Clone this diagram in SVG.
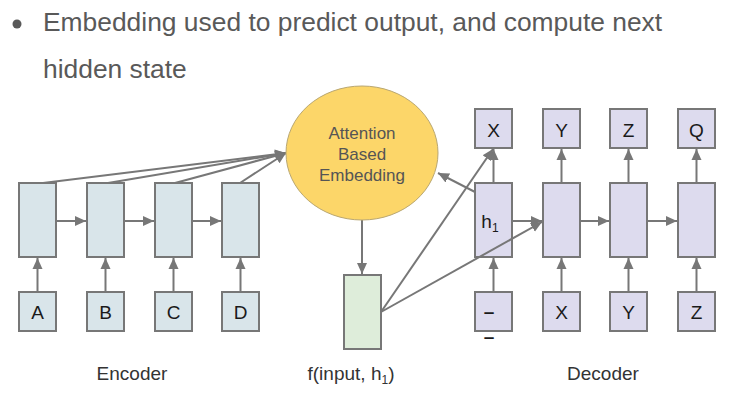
<svg xmlns="http://www.w3.org/2000/svg" width="737" height="400" viewBox="0 0 737 400">
<defs>
<marker id="ah" markerUnits="userSpaceOnUse" markerWidth="12" markerHeight="12" viewBox="0 0 12 12" refX="11" refY="6" orient="auto">
<path d="M0,1 L11,6 L0,11 Z" fill="#777"/>
</marker>
</defs>
<style>
.enc{fill:#d9e5ea;stroke:#777;stroke-width:2}
.dec{fill:#dddbee;stroke:#777;stroke-width:2}
.grn{fill:#deedda;stroke:#777;stroke-width:2}
.c{stroke:#777;stroke-width:2;fill:none;marker-end:url(#ah)}
.t{font-family:"Liberation Sans",Arial,sans-serif;fill:#595959}
.lb{font-family:"Liberation Sans",Arial,sans-serif;fill:#1a1a1a;font-size:19px;text-anchor:middle}
.cap{font-family:"Liberation Sans",Arial,sans-serif;fill:#333;font-size:19px;text-anchor:middle}
.att{font-family:"Liberation Sans",Arial,sans-serif;fill:#555;font-size:17px;text-anchor:middle}
</style>
<rect width="737" height="400" fill="#fff"/>
<g id="title">
<circle cx="17" cy="24" r="4.5" fill="#595959"/>
<text class="t" x="43" y="31" font-size="26.4">Embedding used to predict output, and compute next</text>
<text class="t" x="43" y="78" font-size="26.4">hidden state</text>
</g>
<g id="connectors">
<line class="c" x1="43" y1="183" x2="286" y2="153"/>
<line class="c" x1="108" y1="183" x2="286" y2="153"/>
<line class="c" x1="175" y1="183" x2="286" y2="153"/>
<line class="c" x1="240" y1="183" x2="286" y2="153"/>
<line class="c" x1="56" y1="221" x2="86" y2="221"/>
<line class="c" x1="124" y1="221" x2="154" y2="221"/>
<line class="c" x1="192" y1="221" x2="221" y2="221"/>
<line class="c" x1="37.5" y1="292" x2="37.5" y2="258"/>
<line class="c" x1="105.5" y1="292" x2="105.5" y2="258"/>
<line class="c" x1="173.5" y1="292" x2="173.5" y2="258"/>
<line class="c" x1="240.5" y1="292" x2="240.5" y2="258"/>
<line class="c" x1="362" y1="220" x2="362" y2="274"/>
<line class="c" x1="475" y1="192" x2="438" y2="173"/>
<line class="c" x1="512" y1="221" x2="542" y2="221"/>
<line class="c" x1="580" y1="221" x2="609" y2="221"/>
<line class="c" x1="647" y1="221" x2="677" y2="221"/>
<line class="c" x1="493.5" y1="183" x2="493.5" y2="149"/>
<line class="c" x1="561.5" y1="183" x2="561.5" y2="149"/>
<line class="c" x1="628.5" y1="183" x2="628.5" y2="149"/>
<line class="c" x1="696.5" y1="183" x2="696.5" y2="149"/>
<line class="c" x1="493.5" y1="292" x2="493.5" y2="258"/>
<line class="c" x1="561.5" y1="292" x2="561.5" y2="258"/>
<line class="c" x1="628.5" y1="292" x2="628.5" y2="258"/>
<line class="c" x1="696.5" y1="292" x2="696.5" y2="258"/>
</g>
<g id="enc1"><rect class="enc" x="19" y="183" width="37" height="74"/></g>
<g id="enc2"><rect class="enc" x="87" y="183" width="37" height="74"/></g>
<g id="enc3"><rect class="enc" x="155" y="183" width="37" height="74"/></g>
<g id="enc4"><rect class="enc" x="222" y="183" width="37" height="74"/></g>
<g id="inA"><rect class="enc" x="19" y="292" width="37" height="39"/><text class="lb" x="37.5" y="319">A</text></g>
<g id="inB"><rect class="enc" x="87" y="292" width="37" height="39"/><text class="lb" x="105.5" y="319">B</text></g>
<g id="inC"><rect class="enc" x="155" y="292" width="37" height="39"/><text class="lb" x="173.5" y="319">C</text></g>
<g id="inD"><rect class="enc" x="222" y="292" width="37" height="39"/><text class="lb" x="240.5" y="319">D</text></g>
<g id="attention">
<ellipse cx="362" cy="153" rx="76" ry="67" fill="#fcd669" stroke="#b9a772" stroke-width="1"/>
<text class="att" x="362" y="139">Attention</text>
<text class="att" x="362" y="160">Based</text>
<text class="att" x="362" y="181">Embedding</text>
</g>
<g id="ffunc"><rect class="grn" x="344" y="275" width="37" height="74"/></g>
<g id="dec1"><rect class="dec" x="475" y="183" width="37" height="74"/><text class="lb" x="490" y="228" font-size="20">h<tspan font-size="12" dy="4">1</tspan></text></g>
<g id="dec2"><rect class="dec" x="543" y="183" width="37" height="74"/></g>
<g id="dec3"><rect class="dec" x="610" y="183" width="37" height="74"/></g>
<g id="dec4"><rect class="dec" x="678" y="183" width="37" height="74"/></g>
<g id="outX"><rect class="dec" x="475" y="109" width="37" height="39"/><text class="lb" x="493.5" y="137">X</text></g>
<g id="outY"><rect class="dec" x="543" y="109" width="37" height="39"/><text class="lb" x="561.5" y="137">Y</text></g>
<g id="outZ"><rect class="dec" x="610" y="109" width="37" height="39"/><text class="lb" x="628.5" y="137">Z</text></g>
<g id="outQ"><rect class="dec" x="678" y="109" width="37" height="39"/><text class="lb" x="696.5" y="137">Q</text></g>
<g id="inStart"><rect class="dec" x="475" y="292" width="37" height="39"/><text class="lb" x="489" y="318" font-size="23" font-weight="bold">–</text><text class="lb" x="489" y="343" font-size="23" font-weight="bold">–</text></g>
<g id="inX"><rect class="dec" x="543" y="292" width="37" height="39"/><text class="lb" x="561.5" y="319">X</text></g>
<g id="inY"><rect class="dec" x="610" y="292" width="37" height="39"/><text class="lb" x="628.5" y="319">Y</text></g>
<g id="inZ"><rect class="dec" x="678" y="292" width="37" height="39"/><text class="lb" x="696.5" y="319">Z</text></g>
<g id="overlay">
<line class="c" x1="381" y1="312" x2="493" y2="149"/>
<line class="c" x1="381" y1="312" x2="542" y2="222"/>
</g>
<g id="captions">
<text class="cap" x="132" y="380">Encoder</text>
<text class="cap" x="351" y="380">f(input, h<tspan font-size="12" dy="4">1</tspan><tspan dy="-4">)</tspan></text>
<text class="cap" x="603" y="380">Decoder</text>
</g>
</svg>
